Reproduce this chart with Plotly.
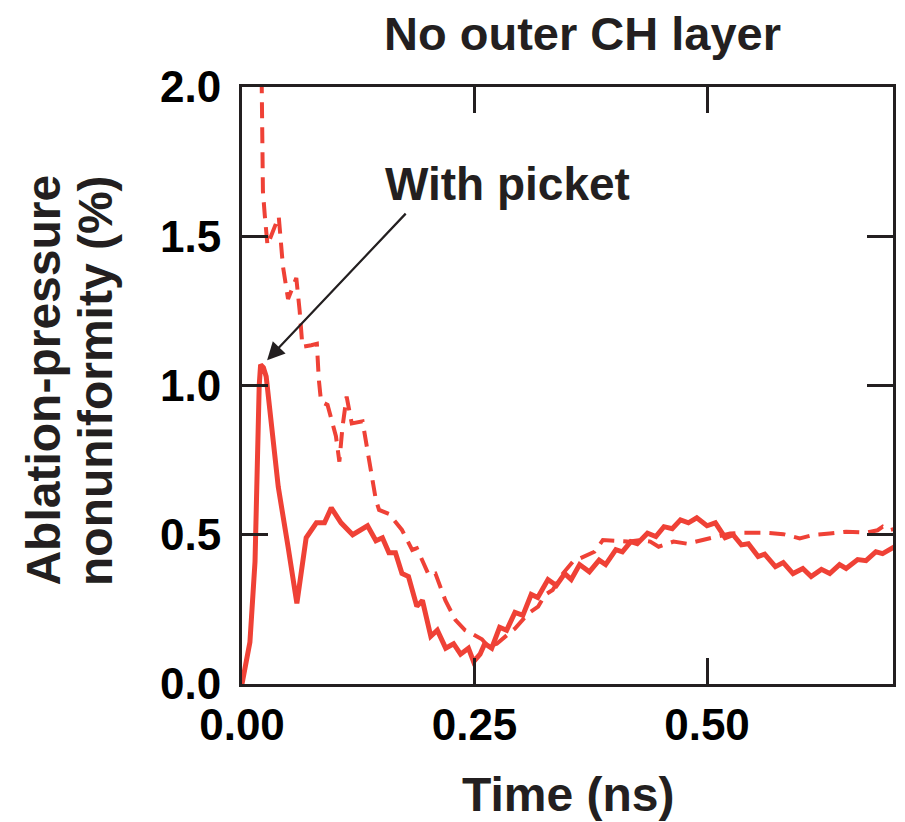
import plotly.graph_objects as go

# Solid curve: with picket
t_solid = [0.000, 0.0085, 0.014, 0.016, 0.0185, 0.020, 0.023, 0.026, 0.032, 0.039,
           0.0495, 0.059, 0.069, 0.080, 0.0887, 0.096, 0.1065, 0.119, 0.135, 0.144,
           0.151, 0.158, 0.165, 0.172, 0.179, 0.188, 0.194, 0.203, 0.210, 0.219,
           0.2275, 0.235, 0.2435, 0.249, 0.256, 0.261, 0.2685, 0.277, 0.2845, 0.2935,
           0.302, 0.311, 0.318, 0.329, 0.338, 0.347, 0.354, 0.363, 0.3735, 0.384,
           0.391, 0.402, 0.409, 0.418, 0.425, 0.436, 0.445, 0.4537, 0.4626, 0.4715,
           0.480, 0.489, 0.500, 0.509, 0.5195, 0.528, 0.537, 0.5445, 0.555, 0.562,
           0.5735, 0.582, 0.5925, 0.603, 0.612, 0.623, 0.632, 0.6425, 0.6496, 0.662,
           0.671, 0.6816, 0.6888, 0.6976, 0.702]
y_solid = [0.00, 0.14, 0.41, 0.75, 1.00, 1.07, 1.06, 1.03, 0.86, 0.66,
           0.46, 0.27, 0.49, 0.54, 0.54, 0.59, 0.54, 0.50, 0.53, 0.48,
           0.49, 0.44, 0.44, 0.37, 0.36, 0.26, 0.28, 0.16, 0.18, 0.12,
           0.135, 0.10, 0.12, 0.075, 0.10, 0.135, 0.12, 0.19, 0.18, 0.24,
           0.23, 0.30, 0.29, 0.35, 0.33, 0.37, 0.35, 0.40, 0.376, 0.415,
           0.40, 0.45, 0.443, 0.477, 0.47, 0.505, 0.494, 0.527, 0.52, 0.55,
           0.54, 0.557, 0.53, 0.54, 0.49, 0.50, 0.466, 0.47, 0.427, 0.435,
           0.393, 0.407, 0.37, 0.387, 0.36, 0.384, 0.37, 0.40, 0.387, 0.417,
           0.413, 0.443, 0.437, 0.453, 0.46]

# Dashed curve
t_dash = [0.0205, 0.021, 0.0213, 0.0225, 0.0245, 0.0274, 0.0395, 0.044, 0.0495, 0.0584,
          0.062, 0.065, 0.0744, 0.0805, 0.0826, 0.085, 0.092, 0.101, 0.1047, 0.108,
          0.1125, 0.118, 0.1296, 0.1368, 0.144, 0.1474, 0.158, 0.172, 0.183, 0.188,
          0.2009, 0.208, 0.2187, 0.2294, 0.240, 0.247, 0.258, 0.265, 0.274, 0.2935,
          0.3077, 0.3184, 0.3255, 0.334, 0.345, 0.3558, 0.368, 0.379, 0.388, 0.404,
          0.4145, 0.4287, 0.439, 0.448, 0.464, 0.4786, 0.4928, 0.5107, 0.525, 0.539,
          0.5606, 0.582, 0.5997, 0.614, 0.632, 0.6496, 0.671, 0.6834, 0.689, 0.696,
          0.702]
y_dash = [2.20, 2.00, 1.80, 1.65, 1.57, 1.47, 1.566, 1.40, 1.29, 1.36,
          1.25, 1.13, 1.135, 1.14, 1.02, 0.946, 0.935, 0.83, 0.745, 0.86,
          0.963, 0.873, 0.88, 0.75, 0.616, 0.583, 0.57, 0.516, 0.449, 0.455,
          0.365, 0.37, 0.28, 0.215, 0.18, 0.169, 0.150, 0.125, 0.135, 0.186,
          0.236, 0.259, 0.298, 0.315, 0.37, 0.41, 0.427, 0.443, 0.482, 0.477,
          0.477, 0.482, 0.477, 0.46, 0.477, 0.47, 0.482, 0.494, 0.504, 0.507,
          0.507, 0.502, 0.488, 0.499, 0.504, 0.51, 0.507, 0.515, 0.527, 0.515,
          0.52]

x_ticks = [0.0, 0.25, 0.5]
x_tick_labels = ["0.00", "0.25", "0.50"]
y_ticks = [0.0, 0.5, 1.0, 1.5, 2.0]
y_tick_labels = ["0.0", "0.5", "1.0", "1.5", "2.0"]

RED = "#EF4136"
INK = "#231F20"
FONT = "Liberation Sans, Arial, Helvetica, sans-serif"

fig = go.Figure()
fig.add_trace(go.Scatter(x=t_dash, y=y_dash, mode="lines",
                         line=dict(color=RED, width=4, dash="16px,9px"),
                         showlegend=False, hoverinfo="skip"))
fig.add_trace(go.Scatter(x=t_solid, y=y_solid, mode="lines",
                         line=dict(color=RED, width=5),
                         showlegend=False, hoverinfo="skip"))

axis_common = dict(showline=True, linecolor=INK, linewidth=3, mirror="allticks",
                   ticks="inside", ticklen=26, tickwidth=2.5, tickcolor=INK,
                   showgrid=False, zeroline=False,
                   tickfont=dict(family=FONT, size=44, color="#000000", weight="bold"))

fig.update_xaxes(range=[0, 0.70], tickvals=x_ticks, ticktext=x_tick_labels,
                 ticklabelstandoff=0, **axis_common)
fig.update_yaxes(range=[0, 2.0], tickvals=y_ticks, ticktext=y_tick_labels,
                 ticklabelstandoff=9, **axis_common)

annotations = [
    dict(text="<b>No outer CH layer</b>", xref="paper", yref="paper",
         x=0.523, y=1.089, xanchor="center", yanchor="middle", showarrow=False,
         font=dict(family=FONT, size=47, color=INK)),
    dict(text="<b>Time (ns)</b>", xref="paper", yref="paper",
         x=0.5015, y=-0.185, xanchor="center", yanchor="middle", showarrow=False,
         font=dict(family=FONT, size=48, color=INK)),
    dict(text="<b>Ablation-pressure</b>", xref="paper", yref="paper",
         x=-0.305, y=0.509, xanchor="center", yanchor="middle", showarrow=False,
         textangle=-90, font=dict(family=FONT, size=48, color=INK)),
    dict(text="<b>nonuniformity (%)</b>", xref="paper", yref="paper",
         x=-0.226, y=0.509, xanchor="center", yanchor="middle", showarrow=False,
         textangle=-90, font=dict(family=FONT, size=48, color=INK)),
    dict(text="<b>With picket</b>", xref="x", yref="y",
         x=0.285, y=1.675, xanchor="center", yanchor="middle", showarrow=False,
         font=dict(family=FONT, size=46, color=INK)),
    dict(text="", xref="x", yref="y", x=0.027, y=1.085,
         showarrow=True, arrowhead=2, arrowsize=1.6, arrowwidth=2.2, arrowcolor=INK,
         ax=140, ay=-148, standoff=0),
]
fig.update_layout(width=905, height=822, margin=dict(l=242, r=9, t=87, b=138),
                  plot_bgcolor="white", paper_bgcolor="white",
                  annotations=annotations)

fig.write_html("out.html")
